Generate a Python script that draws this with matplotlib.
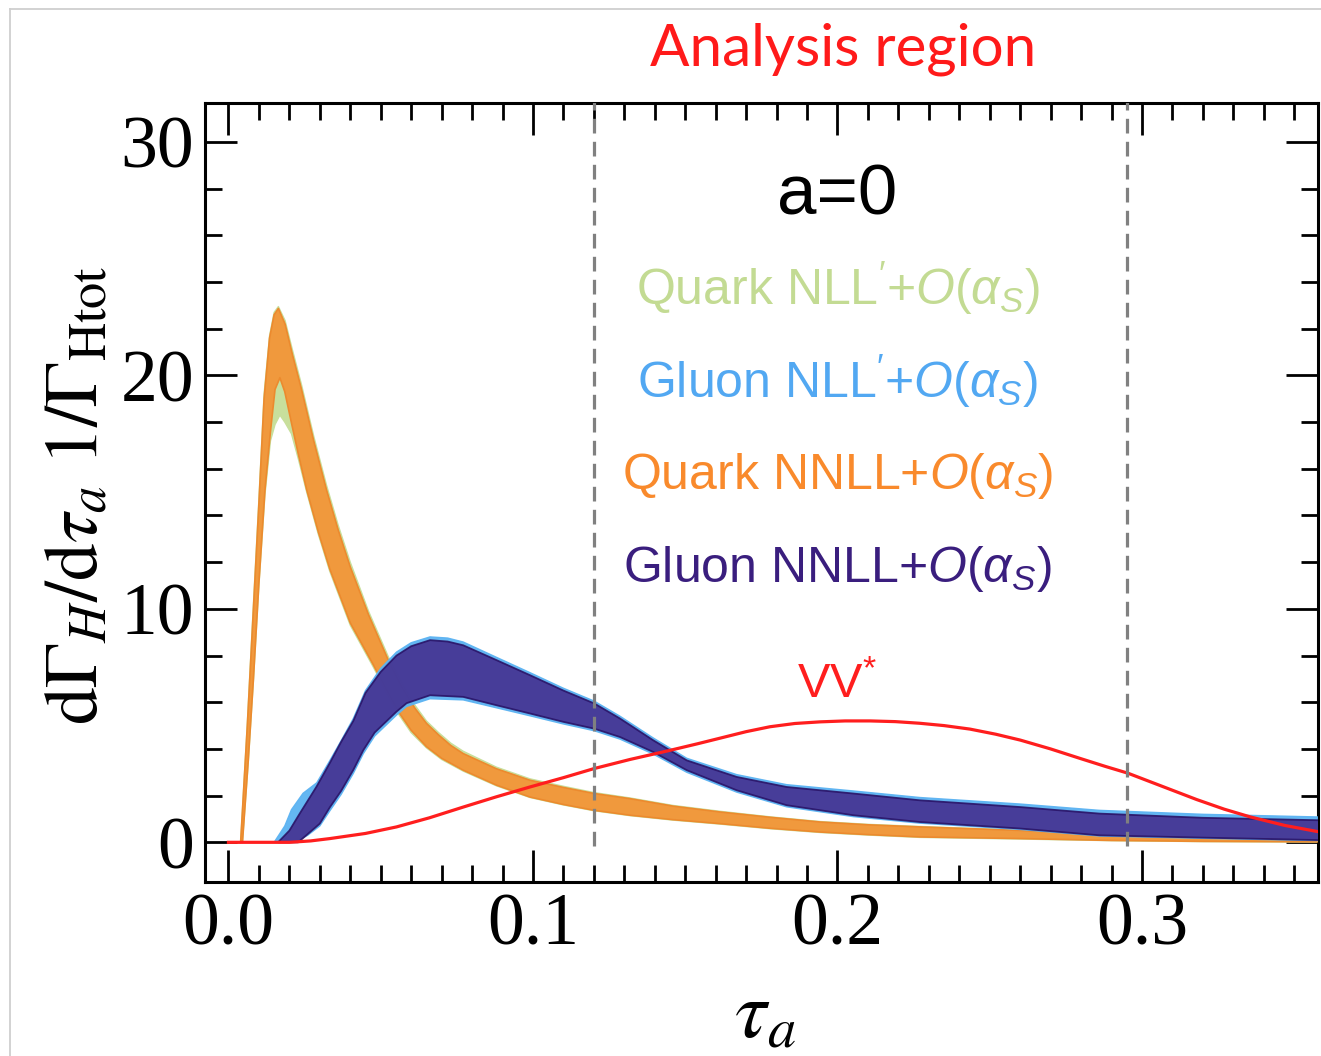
import matplotlib
matplotlib.use('Agg')
import matplotlib.pyplot as plt
from matplotlib.ticker import MultipleLocator, FormatStrFormatter
from matplotlib.lines import Line2D

plt.rcParams['font.family'] = 'Liberation Serif'
plt.rcParams['mathtext.fontset'] = 'custom'
plt.rcParams['mathtext.rm'] = 'Liberation Sans'
plt.rcParams['mathtext.it'] = 'Liberation Sans:italic'
plt.rcParams['mathtext.bf'] = 'Liberation Sans:bold'

# ---------------- data ----------------
# Quark NNLL+O(as) band
qnn_up_x = [0.000, 0.0040, 0.0062, 0.0082, 0.0100, 0.0117, 0.0135, 0.0150, 0.0164, 0.0186, 0.0210, 0.0240,
            0.0280, 0.0322, 0.0360, 0.0400, 0.0460, 0.0525, 0.0570, 0.0612, 0.0650, 0.0690, 0.0730, 0.0771,
            0.0880, 0.0990, 0.1100, 0.1201, 0.1319, 0.1460, 0.1614, 0.1780, 0.1943, 0.2100, 0.2270, 0.2600,
            0.2900, 0.3200, 0.3580]
qnn_up_y = [0.0, 0.0, 5.0, 10.0, 14.5, 19.0, 21.6, 22.6, 22.87, 22.2, 20.9, 19.4,
            17.2, 15.1, 13.4, 11.8, 9.75, 7.8, 6.65, 5.75, 5.1, 4.6, 4.15, 3.8,
            3.15, 2.66, 2.35, 2.09, 1.87, 1.55, 1.3, 1.07, 0.87, 0.75, 0.66, 0.51,
            0.32, 0.2, 0.1]
qnn_lo_x = [0.000, 0.0046, 0.0065, 0.0082, 0.0100, 0.0120, 0.0138, 0.0153, 0.0169, 0.0185, 0.0207, 0.0230,
            0.0257, 0.0295, 0.0333, 0.0400, 0.0476, 0.0520, 0.0558, 0.0600, 0.0650, 0.0700, 0.0771, 0.0880,
            0.0990, 0.1100, 0.1201, 0.1319, 0.1460, 0.1614, 0.1780, 0.1943, 0.2100, 0.2270, 0.2600, 0.2900,
            0.3200, 0.3580]
qnn_lo_y = [0.0, 0.0, 3.5, 7.0, 11.1, 15.1, 17.6, 19.4, 19.9, 19.3, 17.96, 16.6,
            15.1, 13.3, 11.7, 9.4, 7.6, 6.5, 5.6, 4.8, 4.1, 3.6, 3.09, 2.45,
            1.94, 1.62, 1.37, 1.16, 0.97, 0.8, 0.6, 0.44, 0.33, 0.23, 0.16, 0.08,
            0.04, 0.02]

# Quark NLL'+O(as) band
qnl_up_x = qnn_up_x
qnl_up_y = [0.0, 0.0, 5.1, 10.2, 14.7, 19.2, 21.7, 22.7, 22.95, 22.35, 21.1, 19.6,
            17.4, 15.3, 13.6, 12.0, 9.9, 7.95, 6.8, 5.88, 5.2, 4.7, 4.25, 3.9,
            3.22, 2.72, 2.4, 2.13, 1.9, 1.58, 1.33, 1.09, 0.89, 0.77, 0.68, 0.52,
            0.33, 0.21, 0.11]
qnl_lo_x = qnn_lo_x
qnl_lo_y = [0.0, 0.0, 3.4, 6.9, 11.0, 14.9, 17.2, 17.9, 18.3, 18.0, 17.5, 16.4,
            15.0, 13.2, 11.6, 9.3, 7.5, 6.4, 5.5, 4.7, 4.05, 3.55, 3.05, 2.42,
            1.92, 1.6, 1.35, 1.14, 0.95, 0.78, 0.58, 0.42, 0.31, 0.21, 0.14, 0.07,
            0.03, 0.01]

# Gluon NNLL+O(as) band
gnn_up_x = [0.0163, 0.0200, 0.0235, 0.0290, 0.0333, 0.0370, 0.0410, 0.0450, 0.0500, 0.0552, 0.0600, 0.0662,
            0.0720, 0.0771, 0.0881, 0.0990, 0.1100, 0.1201, 0.1286, 0.1395, 0.1505, 0.1669, 0.1833, 0.2052,
            0.2270, 0.2600, 0.2860, 0.3200, 0.3600]
gnn_up_y = [0.0, 0.5, 1.25, 2.4, 3.4, 4.3, 5.2, 6.4, 7.3, 8.0, 8.4, 8.66,
            8.6, 8.44, 7.8, 7.16, 6.5, 5.95, 5.3, 4.37, 3.51, 2.8, 2.37, 2.09,
            1.8, 1.51, 1.23, 1.05, 0.94]
gnn_lo_x = [0.0229, 0.0260, 0.0300, 0.0333, 0.0370, 0.0410, 0.0443, 0.0480, 0.0520, 0.0552, 0.0585, 0.0662,
            0.0771, 0.0881, 0.0990, 0.1100, 0.1201, 0.1286, 0.1395, 0.1505, 0.1669, 0.1833, 0.2052, 0.2270,
            0.2600, 0.2860, 0.3200, 0.3600]
gnn_lo_y = [0.0, 0.35, 0.8, 1.5, 2.2, 3.1, 3.95, 4.7, 5.2, 5.6, 5.96, 6.3,
            6.23, 5.87, 5.52, 5.16, 4.87, 4.51, 3.87, 3.09, 2.23, 1.59, 1.16, 0.87,
            0.59, 0.3, 0.2, 0.09]

# Gluon NLL'+O(as) band
gnl_up_x = [0.0150, 0.0185, 0.0207, 0.0245, 0.0290, 0.0333, 0.0370, 0.0410, 0.0450, 0.0500, 0.0552, 0.0600,
            0.0662, 0.0720, 0.0771, 0.0881, 0.0990, 0.1100, 0.1201, 0.1286, 0.1395, 0.1505, 0.1669, 0.1833,
            0.2052, 0.2270, 0.2600, 0.2860, 0.3200, 0.3600]
gnl_up_y = [0.0, 0.7, 1.4, 2.1, 2.55, 3.5, 4.35, 5.3, 6.5, 7.45, 8.15, 8.55,
            8.8, 8.75, 8.58, 7.92, 7.27, 6.6, 6.05, 5.4, 4.47, 3.6, 2.9, 2.47,
            2.2, 1.92, 1.64, 1.37, 1.2, 1.08]
gnl_lo_x = [0.0215, 0.0260, 0.0300, 0.0333, 0.0370, 0.0410, 0.0443, 0.0480, 0.0520, 0.0552, 0.0585, 0.0662,
            0.0771, 0.0881, 0.0990, 0.1100, 0.1201, 0.1286, 0.1395, 0.1505, 0.1669, 0.1833, 0.2052, 0.2270,
            0.2600, 0.2860, 0.3200, 0.3600]
gnl_lo_y = [0.0, 0.3, 0.7, 1.35, 2.05, 2.95, 3.8, 4.55, 5.05, 5.45, 5.82, 6.15,
            6.1, 5.76, 5.42, 5.07, 4.78, 4.42, 3.78, 3.0, 2.15, 1.52, 1.1, 0.82,
            0.55, 0.27, 0.17, 0.07]

# VV* background
vv_x = [0.000, 0.0200, 0.0270, 0.0333, 0.0450, 0.0552, 0.0660, 0.0771, 0.0880, 0.0990, 0.1100, 0.1201,
        0.1319, 0.1450, 0.1540, 0.1614, 0.1700, 0.1778, 0.1860, 0.1943, 0.2025, 0.2107, 0.2190, 0.2270,
        0.2350, 0.2435, 0.2520, 0.2600, 0.2700, 0.2800, 0.2880, 0.2954, 0.3070, 0.3180, 0.3270, 0.3355,
        0.3470, 0.3585]
vv_y = [0.0, 0.0, 0.06, 0.16, 0.38, 0.66, 1.05, 1.51, 1.95, 2.37, 2.77, 3.16,
        3.55, 3.94, 4.22, 4.46, 4.74, 4.95, 5.09, 5.16, 5.2, 5.2, 5.17, 5.1,
        5.0, 4.85, 4.63, 4.38, 4.0, 3.58, 3.25, 2.96, 2.38, 1.83, 1.42, 1.09,
        0.72, 0.44]

region_edges = [0.12, 0.295]
x_ticks = [0.0, 0.1, 0.2, 0.3]
y_ticks = [0, 10, 20, 30]

labels = [r"Quark NLL$^{\prime}$+$O(\alpha_{S})$", r"Gluon NLL$^{\prime}$+$O(\alpha_{S})$",
          r"Quark NNLL+$O(\alpha_{S})$", r"Gluon NNLL+$O(\alpha_{S})$"]
label_colors = ['#C3DB93', '#52A8F2', '#F98A2C', '#3A1E7E']

# ---------------- figure ----------------
W, H = 1321, 1056
fig = plt.figure(figsize=(W / 100, H / 100), dpi=100)
ax = fig.add_axes([205 / W, 1 - 882 / H, (1318 - 205) / W, (882 - 103) / H])


def band(xu, yu, xl, yl, fc, ec, lw, alpha=1.0, z=2):
    X = list(xu) + list(xl)[::-1]
    Y = list(yu) + list(yl)[::-1]
    ax.fill(X, Y, facecolor=fc, edgecolor=ec, lw=lw, alpha=alpha, zorder=z, joinstyle='round')


band(qnl_up_x, qnl_up_y, qnl_lo_x, qnl_lo_y, '#C8DF9C', '#C8DF9C', 1.0, z=2)
band(qnn_up_x, qnn_up_y, qnn_lo_x, qnn_lo_y, '#F0993D', '#EC8A2E', 1.2, z=3)
band(gnl_up_x, gnl_up_y, gnl_lo_x, gnl_lo_y, '#5CB3F2', '#5CB3F2', 1.0, alpha=0.95, z=4)
band(gnn_up_x, gnn_up_y, gnn_lo_x, gnn_lo_y, '#44308F', '#2A1468', 1.3, alpha=0.9, z=5)

ax.plot(vv_x, vv_y, color='#FF1E1E', lw=2.3, zorder=6, solid_joinstyle='round')

for xe in region_edges:
    ax.plot([xe, xe], [-0.15, 31.7], color='#808080', lw=2.3, ls=(0, (4.6, 2.6)), zorder=7)

ax.set_xlim(-0.0077, 0.3578)
ax.set_ylim(-1.70, 31.67)

ax.set_xticks(x_ticks)
ax.set_yticks(y_ticks)
ax.xaxis.set_minor_locator(MultipleLocator(0.01))
ax.yaxis.set_minor_locator(MultipleLocator(2))
ax.xaxis.set_major_formatter(FormatStrFormatter('%.1f'))
ax.yaxis.set_major_formatter(FormatStrFormatter('%d'))
ax.tick_params(which='both', direction='in', top=True, right=True, width=2.0, color='black')
ax.tick_params(which='major', length=23, labelsize=53, pad=8)
ax.tick_params(which='minor', length=12)
for lab in ax.get_xticklabels() + ax.get_yticklabels():
    lab.set_fontfamily('Liberation Serif')
for sp in ax.spines.values():
    sp.set_linewidth(2.2)

ax.set_ylabel(r'$\mathrm{d}\Gamma_{H}/\mathrm{d}\tau_{a}\ 1/\Gamma_{\mathrm{Htot}}$',
              math_fontfamily='stix', fontsize=54)
ax.yaxis.label.set_va('center')
ax.yaxis.set_label_coords((80 - 205) / 1113, (882 - 495) / 779)
ax.set_xlabel(r'$\tau_{a}$', math_fontfamily='stix', fontsize=58)
ax.xaxis.label.set_va('center')
ax.xaxis.set_label_coords((765 - 205) / 1113, (882 - 1018) / 779)

ax.text(0.2, 26.9, 'a=0', family='Liberation Sans', fontsize=51, ha='center', va='baseline', zorder=8)
for lab, col, yb in zip(labels, label_colors, [23.0, 19.03, 15.13, 11.14]):
    ax.text(0.2, yb, lab, family='Liberation Sans', fontsize=36, color=col, ha='center', va='baseline', zorder=8)
ax.text(0.2, 6.2, r'VV$^{*}$', family='Liberation Sans', fontsize=35, color='#FF1E1E',
        ha='center', va='baseline', zorder=8)

fig.text(843 / W, 1 - 65 / H, 'Analysis region', family='Lato', fontsize=42, color='#FF1A1A',
         ha='center', va='baseline')

# slide frame lines
fig.add_artist(Line2D([10 / W, 1.0], [1 - 9 / H, 1 - 9 / H], transform=fig.transFigure, color='#CFCFCF', lw=1.3))
fig.add_artist(Line2D([10 / W, 10 / W], [0.0, 1 - 9 / H], transform=fig.transFigure, color='#CFCFCF', lw=1.3))

fig.savefig('out.png', dpi=100, facecolor='white')
